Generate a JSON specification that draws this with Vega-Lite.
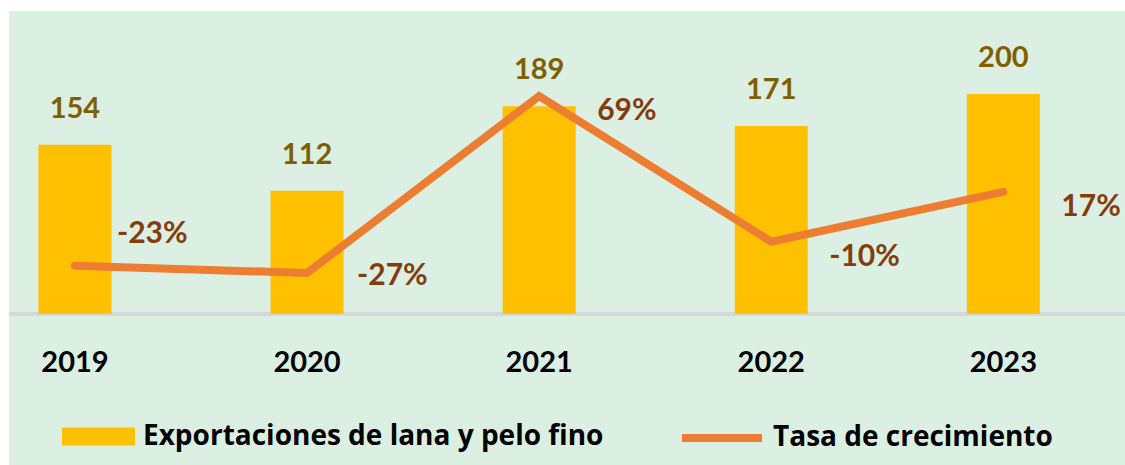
{
  "$schema": "https://vega.github.io/schema/vega-lite/v6.json",
  "width": 1116,
  "height": 454,
  "autosize": {"type": "none"},
  "padding": {"left": 9, "top": 11, "right": 0, "bottom": 0},
  "background": "#FFFFFF",
  "config": {
    "view": {"fill": "#DBEFE2", "stroke": null},
    "font": "Lato",
    "locale": {"number": {"decimal": ".", "thousands": ",", "grouping": [3], "currency": ["$", ""], "minus": "-"}},
    "axisX": {"offset": -151, "domain": false, "ticks": false, "grid": false, "labelPadding": 34, "labelFont": "Lato", "labelFontSize": 29, "labelFontWeight": "bold", "labelColor": "#000000", "labelAngle": 0, "title": null}
  },
  "data": {"values": [
    {"year": "2019", "value": 154, "growth": -0.23},
    {"year": "2020", "value": 112, "growth": -0.27},
    {"year": "2021", "value": 189, "growth": 0.69},
    {"year": "2022", "value": 171, "growth": -0.10},
    {"year": "2023", "value": 200, "growth": 0.17}
  ]},
  "layer": [
    {
      "layer": [
        {
          "mark": {"type": "rule", "color": "#D4D8D6", "strokeWidth": 3},
          "encoding": {"y": {"datum": 0, "type": "quantitative", "scale": {"domain": [-137.3, 275.5], "nice": false, "zero": false}, "axis": null}}
        },
        {
          "mark": {"type": "bar"},
          "encoding": {
            "x": {"field": "year", "type": "ordinal", "title": null, "scale": {"paddingInner": 0.6855, "paddingOuter": 0.2469, "align": 0.257}},
            "y": {"field": "value", "type": "quantitative", "axis": null},
            "y2": {"datum": 0},
            "color": {"datum": "Exportaciones de lana y pelo fino", "scale": {"range": ["#FFC000"]}, "legend": {"orient": "none", "legendX": 53, "legendY": 389, "title": null, "padding": 0, "symbolType": "M-1,-0.2466H1V0.2466H-1Z", "symbolSize": 5329, "symbolStrokeWidth": 0, "symbolOpacity": 1, "labelFont": "Open Sans", "labelFontSize": 28, "labelFontWeight": "bold", "labelColor": "#000000", "labelOffset": 8, "labelLimit": 0}}
          }
        },
        {
          "mark": {"type": "text", "baseline": "alphabetic", "dy": -27, "font": "Lato", "fontSize": 29, "fontWeight": "bold", "color": "#7F6000"},
          "encoding": {
            "x": {"field": "year", "type": "ordinal", "title": null, "scale": {"paddingInner": 0.6855, "paddingOuter": 0.2469, "align": 0.257}},
            "y": {"field": "value", "type": "quantitative", "axis": null},
            "text": {"field": "value", "type": "quantitative"}
          }
        }
      ]
    },
    {
      "layer": [
        {
          "mark": {"type": "line", "strokeWidth": 8, "strokeCap": "round", "strokeJoin": "miter"},
          "encoding": {
            "x": {"field": "year", "type": "ordinal", "title": null, "scale": {"paddingInner": 0.6855, "paddingOuter": 0.2469, "align": 0.257}},
            "y": {"field": "growth", "type": "quantitative", "scale": {"domain": [-1.311, 1.151], "nice": false, "zero": false}, "axis": null},
            "stroke": {"datum": "Tasa de crecimiento", "scale": {"range": ["#ED7D31"]}, "legend": {"orient": "none", "legendX": 669, "legendY": 383, "title": null, "padding": 0, "symbolType": "stroke", "symbolSize": 6400, "symbolStrokeWidth": 8, "labelFont": "Open Sans", "labelFontSize": 28, "labelFontWeight": "bold", "labelColor": "#000000", "labelOffset": 7, "labelLimit": 0}}
          }
        },
        {
          "transform": [{"filter": "datum.year == '2019'"}],
          "mark": {"type": "text", "align": "left", "baseline": "alphabetic", "dx": 42, "dy": -23, "font": "Lato", "fontSize": 30, "fontWeight": "bold", "color": "#843C0C"},
          "encoding": {
            "x": {"field": "year", "type": "ordinal", "title": null, "scale": {"paddingInner": 0.6855, "paddingOuter": 0.2469, "align": 0.257}},
            "y": {"field": "growth", "type": "quantitative", "axis": null},
            "text": {"field": "growth", "type": "quantitative", "format": ".0%"}
          }
        },
        {
          "transform": [{"filter": "datum.year == '2020'"}],
          "mark": {"type": "text", "align": "left", "baseline": "alphabetic", "dx": 50, "dy": 12, "font": "Lato", "fontSize": 30, "fontWeight": "bold", "color": "#843C0C"},
          "encoding": {
            "x": {"field": "year", "type": "ordinal", "title": null, "scale": {"paddingInner": 0.6855, "paddingOuter": 0.2469, "align": 0.257}},
            "y": {"field": "growth", "type": "quantitative", "axis": null},
            "text": {"field": "growth", "type": "quantitative", "format": ".0%"}
          }
        },
        {
          "transform": [{"filter": "datum.year != '2019' && datum.year != '2020'"}],
          "mark": {"type": "text", "align": "left", "baseline": "alphabetic", "dx": 58, "dy": 24, "font": "Lato", "fontSize": 30, "fontWeight": "bold", "color": "#843C0C"},
          "encoding": {
            "x": {"field": "year", "type": "ordinal", "title": null, "scale": {"paddingInner": 0.6855, "paddingOuter": 0.2469, "align": 0.257}},
            "y": {"field": "growth", "type": "quantitative", "axis": null},
            "text": {"field": "growth", "type": "quantitative", "format": ".0%"}
          }
        }
      ]
    }
  ],
  "resolve": {"scale": {"y": "independent"}}
}
